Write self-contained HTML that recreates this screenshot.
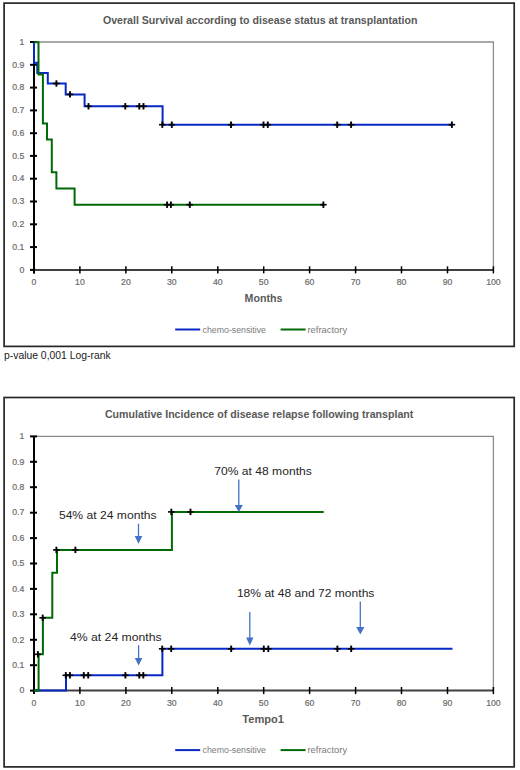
<!DOCTYPE html><html><head><meta charset="utf-8"><style>html,body{margin:0;padding:0;background:#fff;width:520px;height:770px;overflow:hidden}svg{display:block}text{font-family:"Liberation Sans",sans-serif}</style></head><body>
<svg width="520" height="770" viewBox="0 0 520 770">
<rect x="4.1" y="3.1" width="510.1" height="343.3" fill="none" stroke="#262626" stroke-width="1.7"/>
<path d="M34.0 42.0H493.4V269.9" fill="none" stroke="#8c8c8c" stroke-width="1.3"/>
<text x="102.9" y="23.5" font-size="10.6" font-weight="700" fill="#595959" textLength="314.5" lengthAdjust="spacingAndGlyphs">Overall Survival according to disease status at transplantation</text>
<text x="24.3" y="272.6" font-size="8.7" fill="#6b6b6b" stroke="#6b6b6b" stroke-width="0.2" text-anchor="end">0</text>
<path d="M30 269.9H37" stroke="#000" stroke-width="2"/>
<text x="24.3" y="249.8" font-size="8.7" fill="#6b6b6b" stroke="#6b6b6b" stroke-width="0.2" text-anchor="end">0.1</text>
<path d="M30 247.1H37" stroke="#000" stroke-width="2"/>
<text x="24.3" y="227.0" font-size="8.7" fill="#6b6b6b" stroke="#6b6b6b" stroke-width="0.2" text-anchor="end">0.2</text>
<path d="M30 224.3H37" stroke="#000" stroke-width="2"/>
<text x="24.3" y="204.2" font-size="8.7" fill="#6b6b6b" stroke="#6b6b6b" stroke-width="0.2" text-anchor="end">0.3</text>
<path d="M30 201.5H37" stroke="#000" stroke-width="2"/>
<text x="24.3" y="181.4" font-size="8.7" fill="#6b6b6b" stroke="#6b6b6b" stroke-width="0.2" text-anchor="end">0.4</text>
<path d="M30 178.7H37" stroke="#000" stroke-width="2"/>
<text x="24.3" y="158.6" font-size="8.7" fill="#6b6b6b" stroke="#6b6b6b" stroke-width="0.2" text-anchor="end">0.5</text>
<path d="M30 155.9H37" stroke="#000" stroke-width="2"/>
<text x="24.3" y="135.9" font-size="8.7" fill="#6b6b6b" stroke="#6b6b6b" stroke-width="0.2" text-anchor="end">0.6</text>
<path d="M30 133.2H37" stroke="#000" stroke-width="2"/>
<text x="24.3" y="113.1" font-size="8.7" fill="#6b6b6b" stroke="#6b6b6b" stroke-width="0.2" text-anchor="end">0.7</text>
<path d="M30 110.4H37" stroke="#000" stroke-width="2"/>
<text x="24.3" y="90.3" font-size="8.7" fill="#6b6b6b" stroke="#6b6b6b" stroke-width="0.2" text-anchor="end">0.8</text>
<path d="M30 87.6H37" stroke="#000" stroke-width="2"/>
<text x="24.3" y="67.5" font-size="8.7" fill="#6b6b6b" stroke="#6b6b6b" stroke-width="0.2" text-anchor="end">0.9</text>
<path d="M30 64.8H37" stroke="#000" stroke-width="2"/>
<text x="24.3" y="44.7" font-size="8.7" fill="#6b6b6b" stroke="#6b6b6b" stroke-width="0.2" text-anchor="end">1</text>
<path d="M30 42.0H37" stroke="#000" stroke-width="2"/>
<path d="M34.0 269.9H493.4" stroke="#404040" stroke-width="2"/>
<path d="M34.0 266.3V273.4" stroke="#000" stroke-width="1.5"/>
<text x="34.0" y="285.1" font-size="8.7" fill="#6b6b6b" stroke="#6b6b6b" stroke-width="0.2" text-anchor="middle">0</text>
<path d="M79.9 266.3V273.4" stroke="#000" stroke-width="1.5"/>
<text x="79.9" y="285.1" font-size="8.7" fill="#6b6b6b" stroke="#6b6b6b" stroke-width="0.2" text-anchor="middle">10</text>
<path d="M125.9 266.3V273.4" stroke="#000" stroke-width="1.5"/>
<text x="125.9" y="285.1" font-size="8.7" fill="#6b6b6b" stroke="#6b6b6b" stroke-width="0.2" text-anchor="middle">20</text>
<path d="M171.8 266.3V273.4" stroke="#000" stroke-width="1.5"/>
<text x="171.8" y="285.1" font-size="8.7" fill="#6b6b6b" stroke="#6b6b6b" stroke-width="0.2" text-anchor="middle">30</text>
<path d="M217.8 266.3V273.4" stroke="#000" stroke-width="1.5"/>
<text x="217.8" y="285.1" font-size="8.7" fill="#6b6b6b" stroke="#6b6b6b" stroke-width="0.2" text-anchor="middle">40</text>
<path d="M263.7 266.3V273.4" stroke="#000" stroke-width="1.5"/>
<text x="263.7" y="285.1" font-size="8.7" fill="#6b6b6b" stroke="#6b6b6b" stroke-width="0.2" text-anchor="middle">50</text>
<path d="M309.6 266.3V273.4" stroke="#000" stroke-width="1.5"/>
<text x="309.6" y="285.1" font-size="8.7" fill="#6b6b6b" stroke="#6b6b6b" stroke-width="0.2" text-anchor="middle">60</text>
<path d="M355.6 266.3V273.4" stroke="#000" stroke-width="1.5"/>
<text x="355.6" y="285.1" font-size="8.7" fill="#6b6b6b" stroke="#6b6b6b" stroke-width="0.2" text-anchor="middle">70</text>
<path d="M401.5 266.3V273.4" stroke="#000" stroke-width="1.5"/>
<text x="401.5" y="285.1" font-size="8.7" fill="#6b6b6b" stroke="#6b6b6b" stroke-width="0.2" text-anchor="middle">80</text>
<path d="M447.5 266.3V273.4" stroke="#000" stroke-width="1.5"/>
<text x="447.5" y="285.1" font-size="8.7" fill="#6b6b6b" stroke="#6b6b6b" stroke-width="0.2" text-anchor="middle">90</text>
<path d="M493.4 266.3V273.4" stroke="#000" stroke-width="1.5"/>
<text x="493.4" y="285.1" font-size="8.7" fill="#6b6b6b" stroke="#6b6b6b" stroke-width="0.2" text-anchor="middle">100</text>
<path d="M34.0 41.5V273.4" stroke="#000" stroke-width="2"/>
<text x="244.6" y="302.3" font-size="10.7" font-weight="700" fill="#595959" textLength="37.8" lengthAdjust="spacingAndGlyphs">Months</text>
<path d="M175.2 329.5H200.2" stroke="#0829c6" stroke-width="2"/>
<text x="202.6" y="333.0" font-size="9.2" fill="#7a7a7a" textLength="63.3" lengthAdjust="spacingAndGlyphs">chemo-sensitive</text>
<path d="M280.6 329.5H305.6" stroke="#006b06" stroke-width="2"/>
<text x="307.5" y="333.0" font-size="9.2" fill="#7a7a7a" textLength="39.6" lengthAdjust="spacingAndGlyphs">refractory</text>
<rect x="4.1" y="397.5" width="510.1" height="369.4" fill="none" stroke="#262626" stroke-width="1.7"/>
<path d="M34.0 436.4H493.4V690.6" fill="none" stroke="#8c8c8c" stroke-width="1.3"/>
<text x="104.9" y="418.2" font-size="10.6" font-weight="700" fill="#595959" textLength="308.5" lengthAdjust="spacingAndGlyphs">Cumulative Incidence of disease relapse following transplant</text>
<text x="24.3" y="693.3" font-size="8.7" fill="#6b6b6b" stroke="#6b6b6b" stroke-width="0.2" text-anchor="end">0</text>
<path d="M30 690.6H37" stroke="#000" stroke-width="2"/>
<text x="24.3" y="667.9" font-size="8.7" fill="#6b6b6b" stroke="#6b6b6b" stroke-width="0.2" text-anchor="end">0.1</text>
<path d="M30 665.2H37" stroke="#000" stroke-width="2"/>
<text x="24.3" y="642.5" font-size="8.7" fill="#6b6b6b" stroke="#6b6b6b" stroke-width="0.2" text-anchor="end">0.2</text>
<path d="M30 639.8H37" stroke="#000" stroke-width="2"/>
<text x="24.3" y="617.0" font-size="8.7" fill="#6b6b6b" stroke="#6b6b6b" stroke-width="0.2" text-anchor="end">0.3</text>
<path d="M30 614.3H37" stroke="#000" stroke-width="2"/>
<text x="24.3" y="591.6" font-size="8.7" fill="#6b6b6b" stroke="#6b6b6b" stroke-width="0.2" text-anchor="end">0.4</text>
<path d="M30 588.9H37" stroke="#000" stroke-width="2"/>
<text x="24.3" y="566.2" font-size="8.7" fill="#6b6b6b" stroke="#6b6b6b" stroke-width="0.2" text-anchor="end">0.5</text>
<path d="M30 563.5H37" stroke="#000" stroke-width="2"/>
<text x="24.3" y="540.8" font-size="8.7" fill="#6b6b6b" stroke="#6b6b6b" stroke-width="0.2" text-anchor="end">0.6</text>
<path d="M30 538.1H37" stroke="#000" stroke-width="2"/>
<text x="24.3" y="515.4" font-size="8.7" fill="#6b6b6b" stroke="#6b6b6b" stroke-width="0.2" text-anchor="end">0.7</text>
<path d="M30 512.7H37" stroke="#000" stroke-width="2"/>
<text x="24.3" y="489.9" font-size="8.7" fill="#6b6b6b" stroke="#6b6b6b" stroke-width="0.2" text-anchor="end">0.8</text>
<path d="M30 487.2H37" stroke="#000" stroke-width="2"/>
<text x="24.3" y="464.5" font-size="8.7" fill="#6b6b6b" stroke="#6b6b6b" stroke-width="0.2" text-anchor="end">0.9</text>
<path d="M30 461.8H37" stroke="#000" stroke-width="2"/>
<text x="24.3" y="439.1" font-size="8.7" fill="#6b6b6b" stroke="#6b6b6b" stroke-width="0.2" text-anchor="end">1</text>
<path d="M30 436.4H37" stroke="#000" stroke-width="2"/>
<path d="M34.0 690.6H493.4" stroke="#404040" stroke-width="2"/>
<path d="M34.0 687.0V694.1" stroke="#000" stroke-width="1.5"/>
<text x="34.0" y="706.0" font-size="8.7" fill="#6b6b6b" stroke="#6b6b6b" stroke-width="0.2" text-anchor="middle">0</text>
<path d="M79.9 687.0V694.1" stroke="#000" stroke-width="1.5"/>
<text x="79.9" y="706.0" font-size="8.7" fill="#6b6b6b" stroke="#6b6b6b" stroke-width="0.2" text-anchor="middle">10</text>
<path d="M125.9 687.0V694.1" stroke="#000" stroke-width="1.5"/>
<text x="125.9" y="706.0" font-size="8.7" fill="#6b6b6b" stroke="#6b6b6b" stroke-width="0.2" text-anchor="middle">20</text>
<path d="M171.8 687.0V694.1" stroke="#000" stroke-width="1.5"/>
<text x="171.8" y="706.0" font-size="8.7" fill="#6b6b6b" stroke="#6b6b6b" stroke-width="0.2" text-anchor="middle">30</text>
<path d="M217.8 687.0V694.1" stroke="#000" stroke-width="1.5"/>
<text x="217.8" y="706.0" font-size="8.7" fill="#6b6b6b" stroke="#6b6b6b" stroke-width="0.2" text-anchor="middle">40</text>
<path d="M263.7 687.0V694.1" stroke="#000" stroke-width="1.5"/>
<text x="263.7" y="706.0" font-size="8.7" fill="#6b6b6b" stroke="#6b6b6b" stroke-width="0.2" text-anchor="middle">50</text>
<path d="M309.6 687.0V694.1" stroke="#000" stroke-width="1.5"/>
<text x="309.6" y="706.0" font-size="8.7" fill="#6b6b6b" stroke="#6b6b6b" stroke-width="0.2" text-anchor="middle">60</text>
<path d="M355.6 687.0V694.1" stroke="#000" stroke-width="1.5"/>
<text x="355.6" y="706.0" font-size="8.7" fill="#6b6b6b" stroke="#6b6b6b" stroke-width="0.2" text-anchor="middle">70</text>
<path d="M401.5 687.0V694.1" stroke="#000" stroke-width="1.5"/>
<text x="401.5" y="706.0" font-size="8.7" fill="#6b6b6b" stroke="#6b6b6b" stroke-width="0.2" text-anchor="middle">80</text>
<path d="M447.5 687.0V694.1" stroke="#000" stroke-width="1.5"/>
<text x="447.5" y="706.0" font-size="8.7" fill="#6b6b6b" stroke="#6b6b6b" stroke-width="0.2" text-anchor="middle">90</text>
<path d="M493.4 687.0V694.1" stroke="#000" stroke-width="1.5"/>
<text x="493.4" y="706.0" font-size="8.7" fill="#6b6b6b" stroke="#6b6b6b" stroke-width="0.2" text-anchor="middle">100</text>
<path d="M34.0 435.9V694.1" stroke="#000" stroke-width="2"/>
<text x="242.3" y="722.6" font-size="10.7" font-weight="700" fill="#595959" textLength="41.7" lengthAdjust="spacingAndGlyphs">Tempo1</text>
<path d="M175.2 750.1H200.2" stroke="#0829c6" stroke-width="2"/>
<text x="202.6" y="753.4" font-size="9.2" fill="#7a7a7a" textLength="63.3" lengthAdjust="spacingAndGlyphs">chemo-sensitive</text>
<path d="M280.6 750.1H305.6" stroke="#006b06" stroke-width="2"/>
<text x="307.5" y="753.4" font-size="9.2" fill="#7a7a7a" textLength="39.6" lengthAdjust="spacingAndGlyphs">refractory</text>
<path d="M34 42.2V62.7H37.3V72.9H47.8V83.5H65.7V94.4H84.6V106.3H162.6V124.7H451.9" fill="none" stroke="#0829c6" stroke-width="2"/>
<path d="M34 42.2H38.5V74.4H42.9V123.4H47V139.6H51.8V172.2H56.4V188.5H74.6V204.7H323.4" fill="none" stroke="#006b06" stroke-width="2"/>
<path d="M53.1 83.5H59.7" stroke="#000" stroke-width="1.6"/><path d="M56.4 80.3V86.7" stroke="#000" stroke-width="1.9"/>
<path d="M66.7 94.4H73.3" stroke="#000" stroke-width="1.6"/><path d="M70.0 91.2V97.6" stroke="#000" stroke-width="1.9"/>
<path d="M85.2 106.3H91.8" stroke="#000" stroke-width="1.6"/><path d="M88.5 103.1V109.5" stroke="#000" stroke-width="1.9"/>
<path d="M122.0 106.3H128.6" stroke="#000" stroke-width="1.6"/><path d="M125.3 103.1V109.5" stroke="#000" stroke-width="1.9"/>
<path d="M136.0 106.3H142.6" stroke="#000" stroke-width="1.6"/><path d="M139.3 103.1V109.5" stroke="#000" stroke-width="1.9"/>
<path d="M140.2 106.3H146.8" stroke="#000" stroke-width="1.6"/><path d="M143.5 103.1V109.5" stroke="#000" stroke-width="1.9"/>
<path d="M159.0 124.7H165.6" stroke="#000" stroke-width="1.6"/><path d="M162.3 121.5V127.9" stroke="#000" stroke-width="1.9"/>
<path d="M168.5 124.7H175.1" stroke="#000" stroke-width="1.6"/><path d="M171.8 121.5V127.9" stroke="#000" stroke-width="1.9"/>
<path d="M227.7 124.7H234.3" stroke="#000" stroke-width="1.6"/><path d="M231.0 121.5V127.9" stroke="#000" stroke-width="1.9"/>
<path d="M260.2 124.7H266.8" stroke="#000" stroke-width="1.6"/><path d="M263.5 121.5V127.9" stroke="#000" stroke-width="1.9"/>
<path d="M264.5 124.7H271.1" stroke="#000" stroke-width="1.6"/><path d="M267.8 121.5V127.9" stroke="#000" stroke-width="1.9"/>
<path d="M333.9 124.7H340.5" stroke="#000" stroke-width="1.6"/><path d="M337.2 121.5V127.9" stroke="#000" stroke-width="1.9"/>
<path d="M347.8 124.7H354.4" stroke="#000" stroke-width="1.6"/><path d="M351.1 121.5V127.9" stroke="#000" stroke-width="1.9"/>
<path d="M448.6 124.7H455.2" stroke="#000" stroke-width="1.6"/><path d="M451.9 121.5V127.9" stroke="#000" stroke-width="1.9"/>
<path d="M163.8 204.7H170.4" stroke="#000" stroke-width="1.6"/><path d="M167.1 201.5V207.9" stroke="#000" stroke-width="1.9"/>
<path d="M167.6 204.7H174.2" stroke="#000" stroke-width="1.6"/><path d="M170.9 201.5V207.9" stroke="#000" stroke-width="1.9"/>
<path d="M186.5 204.7H193.1" stroke="#000" stroke-width="1.6"/><path d="M189.8 201.5V207.9" stroke="#000" stroke-width="1.9"/>
<path d="M320.1 204.7H326.7" stroke="#000" stroke-width="1.6"/><path d="M323.4 201.5V207.9" stroke="#000" stroke-width="1.9"/>
<path d="M34 690.6H66V675.3H162.4V648.8H452.5" fill="none" stroke="#0829c6" stroke-width="2"/>
<path d="M34 690.6H38.6V654.3H42.9V617.8H52.3V572.8H57V549.9H171.9V511.9H323.7" fill="none" stroke="#006b06" stroke-width="2"/>
<path d="M62.5 675.3H69.1" stroke="#000" stroke-width="1.6"/><path d="M65.8 672.1V678.5" stroke="#000" stroke-width="1.9"/>
<path d="M66.6 675.3H73.2" stroke="#000" stroke-width="1.6"/><path d="M69.9 672.1V678.5" stroke="#000" stroke-width="1.9"/>
<path d="M80.5 675.3H87.1" stroke="#000" stroke-width="1.6"/><path d="M83.8 672.1V678.5" stroke="#000" stroke-width="1.9"/>
<path d="M84.9 675.3H91.5" stroke="#000" stroke-width="1.6"/><path d="M88.2 672.1V678.5" stroke="#000" stroke-width="1.9"/>
<path d="M122.1 675.3H128.7" stroke="#000" stroke-width="1.6"/><path d="M125.4 672.1V678.5" stroke="#000" stroke-width="1.9"/>
<path d="M136.0 675.3H142.6" stroke="#000" stroke-width="1.6"/><path d="M139.3 672.1V678.5" stroke="#000" stroke-width="1.9"/>
<path d="M140.0 675.3H146.6" stroke="#000" stroke-width="1.6"/><path d="M143.3 672.1V678.5" stroke="#000" stroke-width="1.9"/>
<path d="M158.9 648.8H165.5" stroke="#000" stroke-width="1.6"/><path d="M162.2 645.6V652.0" stroke="#000" stroke-width="1.9"/>
<path d="M167.9 648.8H174.5" stroke="#000" stroke-width="1.6"/><path d="M171.2 645.6V652.0" stroke="#000" stroke-width="1.9"/>
<path d="M227.9 648.8H234.5" stroke="#000" stroke-width="1.6"/><path d="M231.2 645.6V652.0" stroke="#000" stroke-width="1.9"/>
<path d="M260.5 648.8H267.1" stroke="#000" stroke-width="1.6"/><path d="M263.8 645.6V652.0" stroke="#000" stroke-width="1.9"/>
<path d="M265.0 648.8H271.6" stroke="#000" stroke-width="1.6"/><path d="M268.3 645.6V652.0" stroke="#000" stroke-width="1.9"/>
<path d="M334.1 648.8H340.7" stroke="#000" stroke-width="1.6"/><path d="M337.4 645.6V652.0" stroke="#000" stroke-width="1.9"/>
<path d="M347.9 648.8H354.5" stroke="#000" stroke-width="1.6"/><path d="M351.2 645.6V652.0" stroke="#000" stroke-width="1.9"/>
<path d="M34.6 654.3H41.2" stroke="#000" stroke-width="1.6"/><path d="M37.9 651.1V657.5" stroke="#000" stroke-width="1.9"/>
<path d="M39.4 617.8H46.0" stroke="#000" stroke-width="1.6"/><path d="M42.7 614.6V621.0" stroke="#000" stroke-width="1.9"/>
<path d="M53.1 549.9H59.7" stroke="#000" stroke-width="1.6"/><path d="M56.4 546.7V553.1" stroke="#000" stroke-width="1.9"/>
<path d="M72.1 549.9H78.7" stroke="#000" stroke-width="1.6"/><path d="M75.4 546.7V553.1" stroke="#000" stroke-width="1.9"/>
<path d="M168.0 511.9H174.6" stroke="#000" stroke-width="1.6"/><path d="M171.3 508.7V515.1" stroke="#000" stroke-width="1.9"/>
<path d="M187.2 511.9H193.8" stroke="#000" stroke-width="1.6"/><path d="M190.5 508.7V515.1" stroke="#000" stroke-width="1.9"/>
<text x="214.3" y="475.0" font-size="11.2" fill="#262626" textLength="97.5" lengthAdjust="spacingAndGlyphs">70% at 48 months</text>
<path d="M238.8 479.6V505.5" stroke="#4472c4" stroke-width="1.3"/><path d="M234.70 505.0H242.90L238.8 512.0Z" fill="#4472c4"/>
<text x="58.9" y="519.0" font-size="11.2" fill="#262626" textLength="97.7" lengthAdjust="spacingAndGlyphs">54% at 24 months</text>
<path d="M138.5 523.7V536.5" stroke="#4472c4" stroke-width="1.3"/><path d="M134.70 536.0H142.30L138.5 543.8Z" fill="#4472c4"/>
<text x="236.9" y="596.5" font-size="11.2" fill="#262626" textLength="137.5" lengthAdjust="spacingAndGlyphs">18% at 48 and 72 months</text>
<path d="M249.8 612.0V638.0" stroke="#4472c4" stroke-width="1.3"/><path d="M246.10 637.5H253.50L249.8 645.4Z" fill="#4472c4"/>
<path d="M360.3 601.5V627.5" stroke="#4472c4" stroke-width="1.3"/><path d="M356.20 627.0H364.40L360.3 634.6Z" fill="#4472c4"/>
<text x="70.0" y="640.7" font-size="11.2" fill="#262626" textLength="91.6" lengthAdjust="spacingAndGlyphs">4% at 24 months</text>
<path d="M138.6 645.2V658.4" stroke="#4472c4" stroke-width="1.3"/><path d="M134.80 657.9H142.40L138.6 665.4Z" fill="#4472c4"/>
<text x="4.0" y="358.9" font-size="10.2" fill="#1a1a1a" textLength="106.6" lengthAdjust="spacingAndGlyphs">p-value 0,001 Log-rank</text>
</svg></body></html>
